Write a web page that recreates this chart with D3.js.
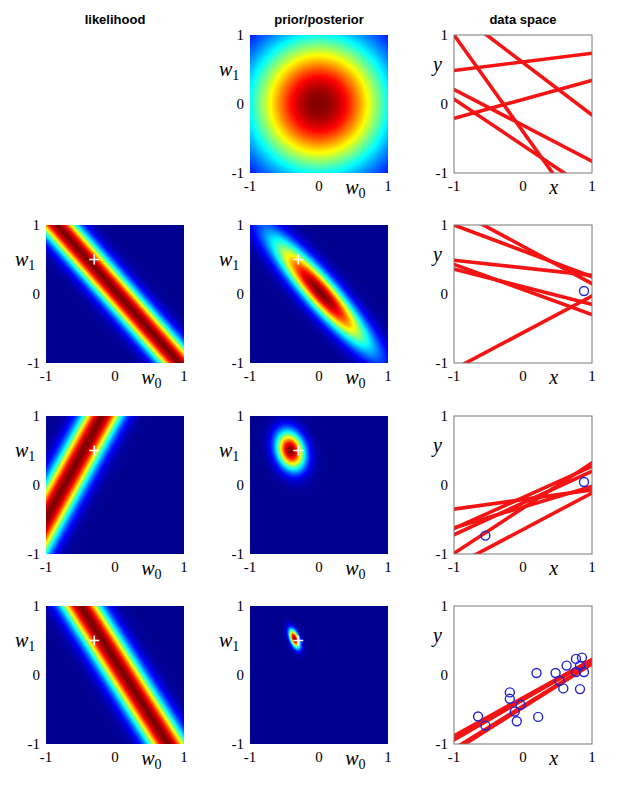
<!DOCTYPE html>
<html>
<head>
<meta charset="utf-8">
<script src="https://cdn.jsdelivr.net/npm/d3@7"></script>
<style>
body { margin: 0; background: #fff; }
</style>
</head>
<body>
<svg id="chart"></svg>
<script>
var titles = ["likelihood", "prior/posterior", "data space"];
var tickVals = [-1, 0, 1];
var tickLabels = ["-1", "0", "1"];

// observed points, in the order they arrive
var obsX = [0.884, -0.545, -0.651, -0.191, -0.191, -0.119, -0.090, -0.036, 0.196, 0.220,
            0.472, 0.530, 0.584, 0.768, 0.768, 0.826, 0.855, 0.826, 0.632];
var obsT = [0.044, -0.733, -0.602, -0.252, -0.345, -0.529, -0.670, -0.432, 0.029, -0.607,
            0.029, -0.083, -0.194, 0.233, 0.044, -0.204, 0.252, 0.136, 0.136];
var nSeen = [0, 1, 2, obsX.length];

var alpha = 2.0, beta = 25.0;
var trueW = [-0.3, 0.5];

// lines y = w0 + w1 x drawn from the posterior, one row per panel
var sampleW0 = [
  [0.61, 0.067, -0.31, -0.60, -0.40, 0.60],
  [0.625, 0.69, 0.38, 0.065, 0.105, -0.56],
  [-0.21, -0.18, -0.26, -0.335, -0.645, -0.32],
  [-0.33, -0.35, -0.34, -0.36, -0.45, -0.47]
];
var sampleW1 = [
  [0.125, 0.276, -0.52, -0.67, -1.40, -0.76],
  [-0.375, -0.54, -0.11, -0.365, -0.255, 0.53],
  [0.14, 0.45, 0.46, 0.655, 0.53, 0.30],
  [0.55, 0.57, 0.56, 0.58, 0.62, 0.63]
];

var colLeft = [46, 250, 454],
    rowTop = [35, 225, 416, 606],
    size = 138;

var svg = d3.select("#chart").attr("width", 636).attr("height", 789);

var xs = d3.scaleLinear().domain([-1, 1]).range([0, size]);
var ys = d3.scaleLinear().domain([-1, 1]).range([size, 0]);

var jet = d3.scaleLinear()
  .domain([0, 0.11, 0.36, 0.61, 0.86, 1])
  .range(["#00008f", "#0000ff", "#00ffff", "#ffff00", "#ff0000", "#800000"]);

svg.selectAll(".title")
  .data(titles)
  .enter().append("text")
  .attr("x", function(d, i) { return colLeft[i] + size / 2; })
  .attr("y", 24)
  .attr("text-anchor", "middle")
  .style("font-family", "Liberation Sans, Arial, sans-serif")
  .style("font-weight", "bold")
  .style("font-size", "13px")
  .text(function(d) { return d; });

function posterior(n) {
  var sx = 0, sxx = 0, st = 0, sxt = 0;
  for (var k = 0; k < n; k++) {
    sx += obsX[k]; sxx += obsX[k] * obsX[k];
    st += obsT[k]; sxt += obsX[k] * obsT[k];
  }
  var A = [[alpha + beta * n, beta * sx], [beta * sx, alpha + beta * sxx]];
  var b = [beta * st, beta * sxt];
  var det = A[0][0] * A[1][1] - A[0][1] * A[1][0];
  var m = [(A[1][1] * b[0] - A[0][1] * b[1]) / det, (A[0][0] * b[1] - A[1][0] * b[0]) / det];
  return function(w0, w1) {
    var d0 = w0 - m[0], d1 = w1 - m[1];
    return Math.exp(-0.5 * (A[0][0] * d0 * d0 + 2 * A[0][1] * d0 * d1 + A[1][1] * d1 * d1));
  };
}

function likelihood(k) {
  return function(w0, w1) {
    var r = obsT[k] - w0 - w1 * obsX[k];
    return Math.exp(-0.5 * beta * r * r);
  };
}

function heat(g, fn) {
  var cv = document.createElement("canvas");
  cv.width = size; cv.height = size;
  var ctx = cv.getContext("2d"), img = ctx.createImageData(size, size);
  var vals = [], mx = 0;
  for (var j = 0; j < size; j++)
    for (var i = 0; i < size; i++) {
      var v = fn(xs.invert(i + 0.5), ys.invert(j + 0.5));
      vals.push(v);
      if (v > mx) mx = v;
    }
  vals.forEach(function(v, k) {
    var c = d3.rgb(jet(v / mx));
    img.data[4 * k] = c.r; img.data[4 * k + 1] = c.g;
    img.data[4 * k + 2] = c.b; img.data[4 * k + 3] = 255;
  });
  ctx.putImageData(img, 0, 0);
  g.append("image").attr("width", size).attr("height", size)
    .attr("preserveAspectRatio", "none")
    .attr("href", cv.toDataURL());
}

function cross(g) {
  var cx = xs(trueW[0]), cy = ys(trueW[1]);
  g.append("path")
    .attr("d", "M" + (cx - 5) + "," + cy + "H" + (cx + 5) + "M" + cx + "," + (cy - 5) + "V" + (cy + 5))
    .attr("stroke", "#fff").attr("stroke-width", 1.6);
}

function axes(g, xName, yName) {
  var serif = "Liberation Serif, Times New Roman, serif";
  g.selectAll(".yt").data(tickVals).enter().append("text")
    .attr("x", -6).attr("y", function(d) { return ys(d); }).attr("dy", "0.35em")
    .attr("text-anchor", "end")
    .style("font-family", serif).style("font-size", "15px")
    .text(function(d, i) { return tickLabels[i]; });
  g.selectAll(".xt").data(tickVals).enter().append("text")
    .attr("x", function(d) { return xs(d); }).attr("y", size + 18)
    .attr("text-anchor", "middle")
    .style("font-family", serif).style("font-size", "15px")
    .text(function(d, i) { return tickLabels[i]; });

  var xl = g.append("text").attr("x", xs(0.38)).attr("y", size + 21)
    .style("font-family", serif).style("font-size", "20px").style("font-style", "italic");
  xl.append("tspan").text(xName[0]);
  if (xName[1]) xl.append("tspan").attr("dy", 4).style("font-style", "normal").style("font-size", "14px").text(xName[1]);

  var yl = g.append("text").attr("x", yName[1] ? -31 : -21).attr("y", yName[1] ? 41 : 36)
    .style("font-family", serif).style("font-size", "20px").style("font-style", "italic");
  yl.append("tspan").text(yName[0]);
  if (yName[1]) yl.append("tspan").attr("dy", 4).style("font-style", "normal").style("font-size", "14px").text(yName[1]);
}

var line = d3.line()
  .x(function(d) { return xs(d[0]); })
  .y(function(d) { return ys(d[1]); });

rowTop.forEach(function(top, r) {
  var n = nSeen[r];

  // likelihood of the newest point
  if (n > 0) {
    var g1 = svg.append("g").attr("transform", "translate(" + colLeft[0] + "," + top + ")");
    heat(g1, likelihood(n - 1));
    cross(g1);
    axes(g1, ["w", "0"], ["w", "1"]);
  }

  // prior / posterior
  var g2 = svg.append("g").attr("transform", "translate(" + colLeft[1] + "," + top + ")");
  heat(g2, posterior(n));
  if (n > 0) cross(g2);
  axes(g2, ["w", "0"], ["w", "1"]);

  // data space
  var g3 = svg.append("g").attr("transform", "translate(" + colLeft[2] + "," + top + ")");
  g3.append("clipPath").attr("id", "clip" + r)
    .append("rect").attr("width", size).attr("height", size);
  var inner = g3.append("g").attr("clip-path", "url(#clip" + r + ")");
  inner.selectAll("path.sample")
    .data(sampleW0[r].map(function(w0, i) { return [w0, sampleW1[r][i]]; }))
    .enter().append("path")
    .attr("class", "sample")
    .attr("d", function(w) { return line([[-1.2, w[0] - 1.2 * w[1]], [1.2, w[0] + 1.2 * w[1]]]); })
    .attr("fill", "none").attr("stroke", "#f41414").attr("stroke-width", 3.6);
  inner.selectAll("circle")
    .data(d3.range(n))
    .enter().append("circle")
    .attr("cx", function(k) { return xs(obsX[k]); })
    .attr("cy", function(k) { return ys(obsT[k]); })
    .attr("r", 4.5)
    .attr("fill", "none").attr("stroke", "#2424d0").attr("stroke-width", 1.4);
  g3.append("rect").attr("width", size).attr("height", size)
    .attr("fill", "none").attr("stroke", "#777").attr("stroke-width", 1);
  axes(g3, ["x"], ["y"]);
});
</script>
</body>
</html>
